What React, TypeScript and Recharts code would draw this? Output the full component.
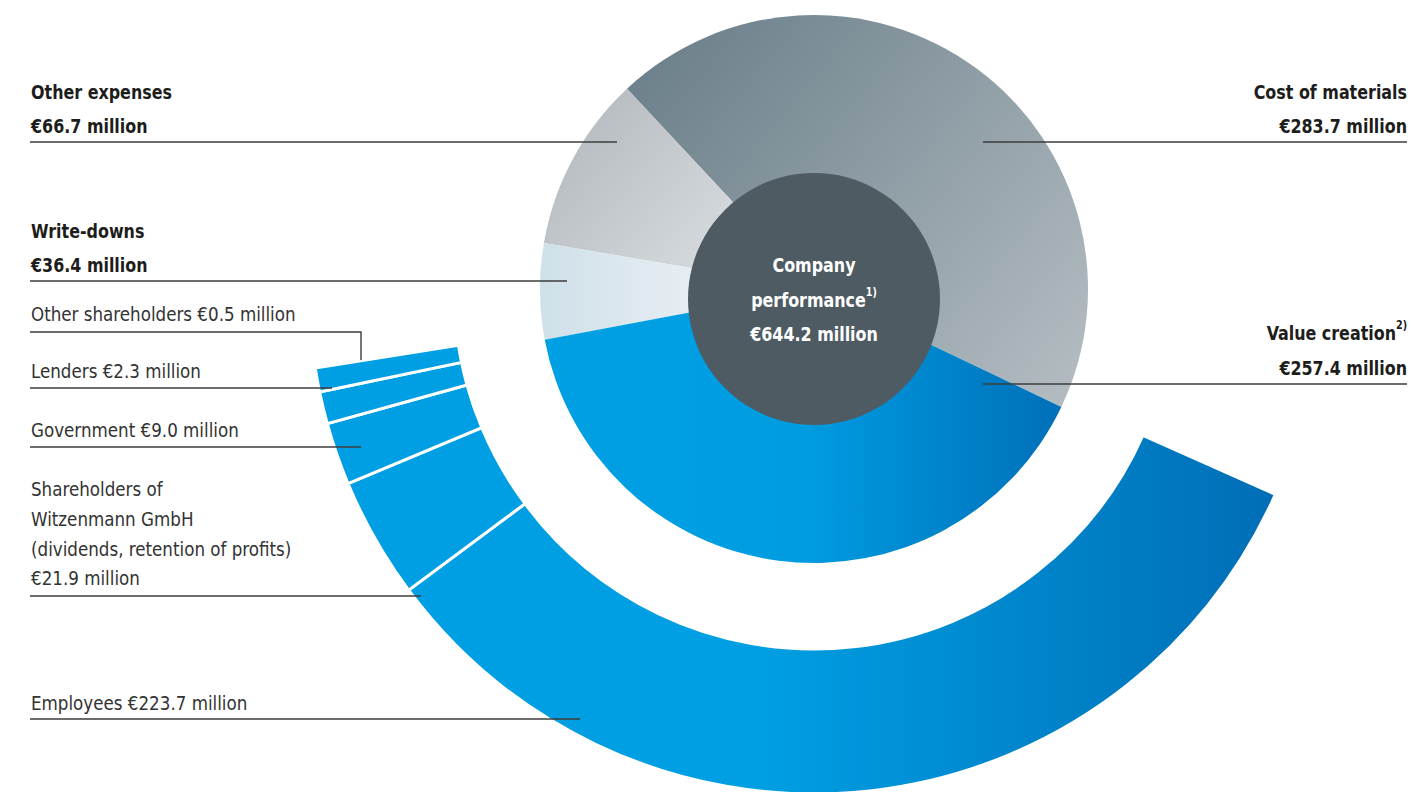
import React from 'react';
import { PieChart, Pie, Cell } from 'recharts';

// inner ring: company performance split
const innerNames = ['Cost of materials', 'Other expenses', 'Write-downs', 'Value creation'];
const innerValues = [283.7, 66.7, 36.4, 257.4];

// outer ring: distribution of value creation
const outerNames = ['Employees', 'Shareholders of Witzenmann GmbH', 'Government', 'Lenders', 'Other shareholders'];
const outerValues = [223.7, 21.9, 9.0, 2.3, 0.5];

const companyTotal = 644.2;

const innerData = innerNames.map((name, i) => ({ name, value: innerValues[i] }));
const outerData = outerNames.map((name, i) => ({ name, value: outerValues[i] }));
const centerData = [{ name: 'Company performance', value: companyTotal }];

const innerFills = ['url(#gCost)', 'url(#gOther)', 'url(#gWrite)', 'url(#gValue)'];
const outerFills = ['url(#gEmp)', '#009fe3', '#009fe3', '#009fe3', '#009fe3'];

const W = 1412;
const H = 792;
const CX = 814;
const CY = 289;

const FONT = '"DejaVu Sans Condensed", "DejaVu Sans", sans-serif';
const INK = '#1d1d1b';
const LINE = '#3c3c3b';
const BOLD_SX = 0.885;
const LIGHT_SX = 0.93;

const fmt = (v: number) => `€${v.toFixed(1)} million`;

type LabelProps = {
  x: number;
  y: number;
  sx: number;
  anchor?: 'start' | 'middle' | 'end';
  children: React.ReactNode;
};

// condensed-looking text: squeeze horizontally around the anchor point
const Label = ({ x, y, sx, anchor = 'start', children }: LabelProps) => (
  <text
    transform={`translate(${x} ${y}) scale(${sx} 1)`}
    textAnchor={anchor}
    dominantBaseline="central"
  >
    {children}
  </text>
);

export default function App() {
  return (
    <div style={{ position: 'absolute', left: 0, top: 0, width: W, height: H, background: '#fff' }}>
      <PieChart width={W} height={H} margin={{ top: 0, right: 0, bottom: 0, left: 0 }}>
        <defs>
          <linearGradient id="gCost" gradientUnits="userSpaceOnUse" x1="650" y1="60" x2="1080" y2="420">
            <stop offset="0" stopColor="#6d818c" />
            <stop offset="1" stopColor="#b6bec3" />
          </linearGradient>
          <linearGradient id="gOther" gradientUnits="userSpaceOnUse" x1="560" y1="110" x2="740" y2="260">
            <stop offset="0" stopColor="#b4b9bd" />
            <stop offset="1" stopColor="#d9dde0" />
          </linearGradient>
          <linearGradient id="gWrite" gradientUnits="userSpaceOnUse" x1="540" y1="0" x2="700" y2="0">
            <stop offset="0" stopColor="#cfe0e9" />
            <stop offset="1" stopColor="#e8eef3" />
          </linearGradient>
          <linearGradient id="gValue" gradientUnits="userSpaceOnUse" x1="540" y1="0" x2="1065" y2="0">
            <stop offset="0" stopColor="#00a0e3" />
            <stop offset="0.5" stopColor="#009ce1" />
            <stop offset="1" stopColor="#006fb8" />
          </linearGradient>
          <linearGradient id="gEmp" gradientUnits="userSpaceOnUse" x1="420" y1="0" x2="1280" y2="0">
            <stop offset="0" stopColor="#009fe3" />
            <stop offset="0.4" stopColor="#009ee2" />
            <stop offset="1" stopColor="#006db6" />
          </linearGradient>
        </defs>
        <Pie
          data={outerData}
          dataKey="value"
          cx={CX}
          cy={CY}
          innerRadius={360}
          outerRadius={505}
          startAngle={-24}
          endAngle={-171}
          minAngle={2.5}
          stroke="#fff"
          strokeWidth={3}
          isAnimationActive={false}
        >
          {outerData.map((d, i) => (
            <Cell key={d.name} fill={outerFills[i]} />
          ))}
        </Pie>
        <Pie
          data={innerData}
          dataKey="value"
          cx={CX}
          cy={CY}
          innerRadius={0}
          outerRadius={274}
          startAngle={-25.5}
          endAngle={334.5}
          stroke="none"
          isAnimationActive={false}
        >
          {innerData.map((d, i) => (
            <Cell key={d.name} fill={innerFills[i]} />
          ))}
        </Pie>
        <Pie
          data={centerData}
          dataKey="value"
          cx={CX}
          cy={299}
          innerRadius={0}
          outerRadius={126}
          stroke="none"
          fill="#4f5b62"
          isAnimationActive={false}
        />
      </PieChart>

      <svg width={W} height={H} style={{ position: 'absolute', left: 0, top: 0, pointerEvents: 'none' }}>
        <g fontFamily={FONT} fontSize={20}>
          {/* center label */}
          <g fill="#fff" fontWeight="bold">
            <Label x={CX} y={265} sx={BOLD_SX} anchor="middle">Company</Label>
            <Label x={CX} y={300} sx={BOLD_SX} anchor="middle">
              performance<tspan fontSize={12} dy={-8}>1)</tspan>
            </Label>
            <Label x={CX} y={334} sx={BOLD_SX} anchor="middle">{fmt(companyTotal)}</Label>
          </g>

          {/* inner ring labels, bold */}
          <g fill={INK} fontWeight="bold">
            <Label x={31} y={92} sx={BOLD_SX}>{innerNames[1]}</Label>
            <Label x={31} y={126} sx={BOLD_SX}>{fmt(innerValues[1])}</Label>
            <Label x={31} y={231} sx={BOLD_SX}>{innerNames[2]}</Label>
            <Label x={31} y={265} sx={BOLD_SX}>{fmt(innerValues[2])}</Label>
            <Label x={1407} y={92} sx={BOLD_SX} anchor="end">{innerNames[0]}</Label>
            <Label x={1407} y={126} sx={BOLD_SX} anchor="end">{fmt(innerValues[0])}</Label>
            <Label x={1407} y={333} sx={BOLD_SX} anchor="end">
              {innerNames[3]}<tspan fontSize={12} dy={-8}>2)</tspan>
            </Label>
            <Label x={1407} y={368} sx={BOLD_SX} anchor="end">{fmt(innerValues[3])}</Label>
          </g>

          {/* outer ring labels, light */}
          <g fill="#333" fontWeight="normal">
            <Label x={31} y={314} sx={LIGHT_SX}>{`${outerNames[4]} ${fmt(outerValues[4])}`}</Label>
            <Label x={31} y={371} sx={LIGHT_SX}>{`${outerNames[3]} ${fmt(outerValues[3])}`}</Label>
            <Label x={31} y={430} sx={LIGHT_SX}>{`${outerNames[2]} ${fmt(outerValues[2])}`}</Label>
            <Label x={31} y={489} sx={LIGHT_SX}>Shareholders of</Label>
            <Label x={31} y={519} sx={LIGHT_SX}>Witzenmann GmbH</Label>
            <Label x={31} y={549} sx={LIGHT_SX}>(dividends, retention of profits)</Label>
            <Label x={31} y={578} sx={LIGHT_SX}>{fmt(outerValues[1])}</Label>
            <Label x={31} y={703} sx={LIGHT_SX}>{`${outerNames[0]} ${fmt(outerValues[0])}`}</Label>
          </g>
        </g>

        {/* leader lines */}
        <g stroke={LINE} strokeWidth={1.4} fill="none">
          <line x1={30} y1={142} x2={617} y2={142} />
          <line x1={30} y1={281} x2={567} y2={281} />
          <line x1={983} y1={142} x2={1407} y2={142} />
          <line x1={983} y1={384} x2={1407} y2={384} />
          <polyline points="30,332 361,332 361,360" />
          <line x1={30} y1={388} x2={332} y2={388} />
          <line x1={30} y1={447} x2={361} y2={447} />
          <line x1={30} y1={596} x2={421} y2={596} />
          <line x1={30} y1={719} x2={580} y2={719} />
        </g>
      </svg>
    </div>
  );
}
